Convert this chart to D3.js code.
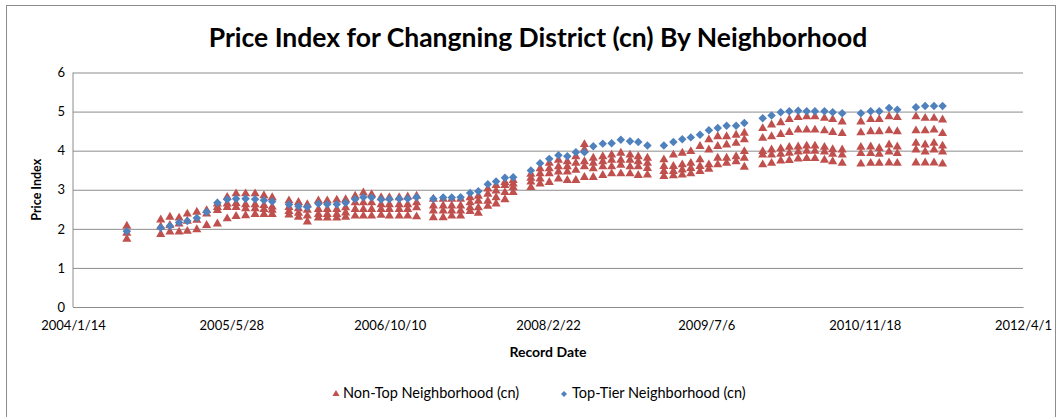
<!DOCTYPE html>
<html>
<head>
<meta charset="utf-8">
<script src="https://cdn.jsdelivr.net/npm/d3@7"></script>
<style>
  body { margin: 0; background: #fff; }
  svg { display: block; font-family: Lato, "Open Sans", sans-serif; }
</style>
</head>
<body>
<svg id="chart" width="1062" height="417"></svg>
<script>
// record dates as Excel date serials (38000 = 2004/1/14)
var recordDates = [38170,
  38277, 38306, 38335, 38361, 38391, 38422, 38456, 38487, 38515, 38545, 38575, 38603, 38629,
  38682, 38712, 38740, 38775, 38803, 38833, 38861, 38891, 38917, 38943, 38973, 38999, 39030, 39057, 39085,
  39138, 39169, 39196, 39224, 39254, 39280, 39310, 39336, 39364, 39390,
  39446, 39475, 39504, 39533, 39561, 39588, 39615, 39643, 39673, 39701, 39730, 39759, 39785, 39814,
  39866, 39896, 39924, 39951, 39980, 40008, 40036, 40064, 40094, 40120,
  40178, 40206, 40235, 40262, 40290, 40317, 40343, 40373, 40399, 40429,
  40488, 40519, 40546, 40577, 40603,
  40662, 40691, 40719, 40746];

var topTier = [1.94,
  2.03, 2.07, 2.16, 2.20, 2.28, 2.43, 2.67, 2.75, 2.77, 2.77, 2.76, 2.73, 2.70,
  2.62, 2.58, 2.56, 2.64, 2.63, 2.63, 2.67, 2.76, 2.81, 2.80, 2.75, 2.76, 2.77, 2.77, 2.81,
  2.77, 2.80, 2.80, 2.81, 2.92, 2.96, 3.14, 3.21, 3.31, 3.32,
  3.49, 3.68, 3.79, 3.88, 3.86, 3.96, 3.96, 4.11, 4.18, 4.19, 4.28, 4.24, 4.22, 4.13,
  4.13, 4.22, 4.29, 4.34, 4.41, 4.52, 4.58, 4.64, 4.64, 4.71,
  4.83, 4.90, 4.98, 5.01, 5.02, 5.01, 5.01, 5.01, 4.98, 4.96,
  4.96, 5.01, 5.01, 5.09, 5.05,
  5.11, 5.14, 5.14, 5.14];

// several non-top neighborhoods per record date
var nonTop = [
  [2.07, 1.89, 1.74],
  [2.23, 2.05, 1.86], [2.30, 2.09, 1.92], [2.28, 2.13, 1.92], [2.38, 2.20, 1.94], [2.43, 2.22, 1.98],
  [2.47, 2.38, 2.09], [2.64, 2.55, 2.47, 2.13], [2.81, 2.64, 2.55, 2.26], [2.90, 2.65, 2.55, 2.32],
  [2.90, 2.62, 2.52, 2.34], [2.90, 2.62, 2.52, 2.37], [2.85, 2.60, 2.50, 2.37], [2.80, 2.56, 2.48, 2.37],
  [2.72, 2.55, 2.45, 2.36], [2.68, 2.52, 2.40, 2.30], [2.62, 2.48, 2.33, 2.18], [2.72, 2.50, 2.37, 2.28],
  [2.72, 2.50, 2.37, 2.28], [2.74, 2.50, 2.37, 2.28], [2.75, 2.54, 2.41, 2.30], [2.84, 2.67, 2.50, 2.33],
  [2.92, 2.67, 2.50, 2.33], [2.88, 2.67, 2.50, 2.33], [2.80, 2.62, 2.50, 2.35], [2.80, 2.62, 2.50, 2.33],
  [2.80, 2.62, 2.50, 2.33], [2.82, 2.62, 2.50, 2.33], [2.84, 2.67, 2.54, 2.31],
  [2.76, 2.59, 2.46, 2.29], [2.76, 2.59, 2.46, 2.29], [2.76, 2.59, 2.46, 2.33], [2.76, 2.59, 2.46, 2.33],
  [2.80, 2.67, 2.54, 2.45], [2.84, 2.71, 2.54, 2.40], [3.02, 2.89, 2.71, 2.58], [3.11, 2.97, 2.80, 2.64],
  [3.19, 3.11, 2.93, 2.75], [3.24, 3.15, 3.06, 2.93],
  [3.40, 3.30, 3.20, 3.06], [3.54, 3.41, 3.28, 3.15], [3.68, 3.54, 3.41, 3.19], [3.76, 3.59, 3.46, 3.28],
  [3.72, 3.59, 3.46, 3.24], [3.85, 3.68, 3.50, 3.24], [4.16, 4.03, 3.72, 3.59, 3.32], [3.81, 3.68, 3.54, 3.32],
  [3.85, 3.72, 3.59, 3.37], [3.89, 3.76, 3.59, 3.41], [3.94, 3.76, 3.63, 3.41], [3.89, 3.76, 3.59, 3.41],
  [3.85, 3.72, 3.59, 3.37], [3.81, 3.68, 3.55, 3.38],
  [3.77, 3.60, 3.47, 3.34], [3.89, 3.60, 3.47, 3.36], [3.94, 3.64, 3.51, 3.38], [3.98, 3.68, 3.55, 3.41],
  [4.11, 3.77, 3.60, 3.47], [4.28, 4.02, 3.64, 3.53], [4.36, 4.11, 3.81, 3.64], [4.36, 4.15, 3.81, 3.68],
  [4.40, 4.19, 3.85, 3.72], [4.45, 4.28, 3.98, 3.81, 3.58],
  [4.57, 4.32, 3.98, 3.89, 3.64], [4.66, 4.36, 4.02, 3.89, 3.68], [4.72, 4.42, 4.05, 3.91, 3.74],
  [4.80, 4.47, 4.09, 3.94, 3.75], [4.85, 4.53, 4.10, 3.97, 3.79], [4.87, 4.53, 4.12, 3.99, 3.80],
  [4.87, 4.53, 4.12, 3.99, 3.80], [4.83, 4.51, 4.09, 3.97, 3.76], [4.80, 4.47, 4.03, 3.91, 3.72],
  [4.74, 4.44, 4.02, 3.89, 3.68],
  [4.74, 4.46, 4.09, 3.93, 3.66], [4.80, 4.49, 4.10, 3.93, 3.68], [4.80, 4.49, 4.06, 3.91, 3.68],
  [4.87, 4.51, 4.15, 3.97, 3.69], [4.85, 4.49, 4.10, 3.93, 3.68],
  [4.87, 4.51, 4.19, 4.02, 3.69], [4.83, 4.51, 4.15, 3.97, 3.69], [4.83, 4.53, 4.19, 4.02, 3.69],
  [4.79, 4.44, 4.12, 3.97, 3.66]
];

var xTickSerials = [38000, 38500, 39000, 39500, 40000, 40500, 41000];
var yTicks = [0, 1, 2, 3, 4, 5, 6];
var seriesNames = ["Non-Top Neighborhood (cn)", "Top-Tier Neighborhood (cn)"];

function serialToDate(s) {
    return new Date(Date.UTC(1899, 11, 30) + s * 86400000);
}

var svg = d3.select("#chart"),
    margin = {top: 72.5, right: 39, bottom: 110, left: 73},
    width = +svg.attr("width") - margin.left - margin.right,
    height = +svg.attr("height") - margin.top - margin.bottom;

var red = "#C0504D", blue = "#4F81BD";

// chart border
svg.append("rect")
    .attr("x", 6.5).attr("y", 5.5)
    .attr("width", 1049).attr("height", 420)
    .attr("fill", "none")
    .attr("stroke", "#8c8c8c");

var x = d3.scaleUtc()
    .domain([serialToDate(38000), serialToDate(41000)])
    .range([0, width]);
var y = d3.scaleLinear().domain([0, 6]).range([height, 0]);

var g = svg.append("g")
    .attr("transform", "translate(" + margin.left + "," + margin.top + ")");

// gridlines + y labels
g.append("g")
    .attr("class", "axis axis--y")
    .call(d3.axisLeft(y).tickValues(yTicks).tickSize(-width).tickPadding(8).tickFormat(d3.format("d")))
    .call(function(a) {
        a.select(".domain").remove();
        a.selectAll("line").attr("stroke", "#8c8c8c");
        a.selectAll("text").attr("fill", "#000").style("font-size", "13px").style("font-family", "Lato");
    });

// left axis line
g.append("line")
    .attr("x1", 0).attr("x2", 0).attr("y1", 0).attr("y2", height)
    .attr("stroke", "#8c8c8c");

var fmt = d3.utcFormat("%Y/%-m/%-d");
g.append("g")
    .attr("class", "axis axis--x")
    .attr("transform", "translate(0," + height + ")")
    .call(d3.axisBottom(x).tickValues(xTickSerials.map(serialToDate)).tickSize(0).tickPadding(14).tickFormat(fmt))
    .call(function(a) {
        a.select(".domain").attr("stroke", "#8c8c8c");
        a.selectAll("text").attr("fill", "#000").style("font-size", "13px").style("font-family", "Lato");
    });

// flatten non-top points
var redPts = [];
nonTop.forEach(function(vals, i) {
    vals.forEach(function(v) { redPts.push({date: serialToDate(recordDates[i]), value: v}); });
});
var bluePts = recordDates.map(function(s, i) { return {date: serialToDate(s), value: topTier[i]}; });

var tri = d3.symbol().type(d3.symbolTriangle).size(36);
var dia = d3.symbol().type(d3.symbolSquare).size(36);

g.selectAll(".red")
    .data(redPts)
    .enter().append("path")
    .attr("class", "red")
    .attr("d", tri)
    .attr("fill", red)
    .attr("transform", function(d) { return "translate(" + x(d.date) + "," + y(d.value) + ")"; });

g.selectAll(".blue")
    .data(bluePts)
    .enter().append("path")
    .attr("class", "blue")
    .attr("d", dia)
    .attr("fill", blue)
    .attr("transform", function(d) { return "translate(" + x(d.date) + "," + y(d.value) + ") rotate(45)"; });

// titles
svg.append("text")
    .attr("x", 538).attr("y", 47)
    .attr("text-anchor", "middle")
    .style("font-size", "26.5px").style("font-weight", "bold")
    .text("Price Index for Changning District (cn) By Neighborhood");

svg.append("text")
    .attr("transform", "translate(41," + (margin.top + height / 2) + ") rotate(-90)")
    .attr("text-anchor", "middle")
    .style("font-size", "12.5px").style("font-weight", "bold")
    .text("Price Index");

svg.append("text")
    .attr("x", 548).attr("y", 357)
    .attr("text-anchor", "middle")
    .style("font-size", "14px").style("font-weight", "bold")
    .text("Record Date");

// legend
var legend = svg.append("g").attr("transform", "translate(336,398)");
legend.append("path").attr("d", d3.symbol().type(d3.symbolTriangle).size(22)).attr("fill", red)
    .attr("transform", "translate(0,-4)");
legend.append("text").attr("x", 7).style("font-size", "14.5px").text(seriesNames[0]);
legend.append("path").attr("d", d3.symbol().type(d3.symbolSquare).size(18)).attr("fill", blue)
    .attr("transform", "translate(228,-4) rotate(45)");
legend.append("text").attr("x", 236).style("font-size", "14.5px").text(seriesNames[1]);
</script>
</body>
</html>
